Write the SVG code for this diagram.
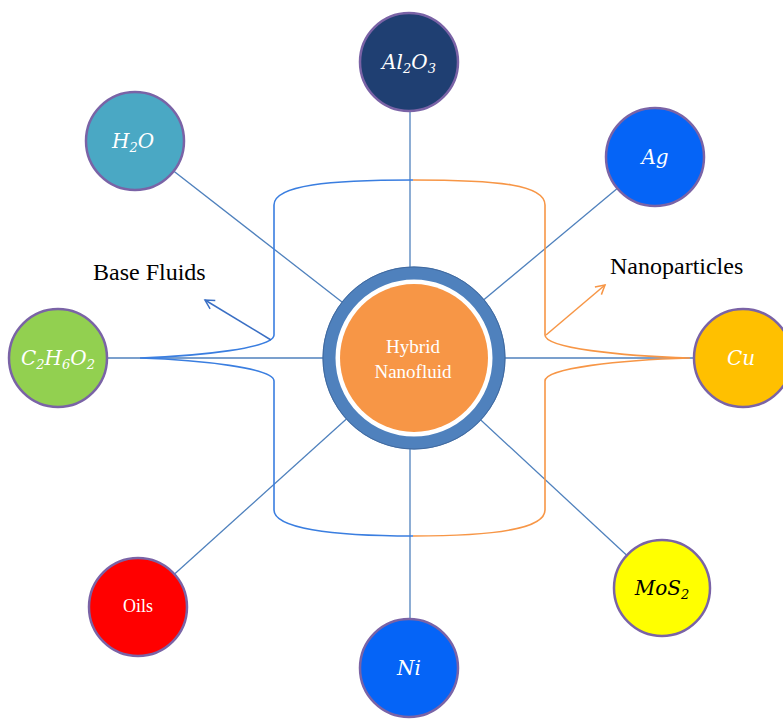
<svg xmlns="http://www.w3.org/2000/svg" width="783" height="719" viewBox="0 0 783 719">
<style>
.spoke{stroke:#4f81bd;stroke-width:1.3;fill:none}
.node{stroke:#7a63a6;stroke-width:2.5}
.lbl{font-family:"DejaVu Serif","Liberation Serif",serif;font-style:italic;font-size:20px;text-anchor:middle;fill:#fff}
.txt{font-family:"Liberation Serif",serif;fill:#000}
.blue{stroke:#3a7ee0;stroke-width:1.6;fill:none}
.orange{stroke:#f79646;stroke-width:1.6;fill:none}
</style>
<defs>
<marker id="ab" markerWidth="12" markerHeight="12" refX="10" refY="6" orient="auto" markerUnits="userSpaceOnUse"><path d="M1,1 L10,6 L1,11" fill="none" stroke="#3a6fc4" stroke-width="1.5"/></marker>
<marker id="ao" markerWidth="12" markerHeight="12" refX="10" refY="6" orient="auto" markerUnits="userSpaceOnUse"><path d="M1,1 L10,6 L1,11" fill="none" stroke="#f79646" stroke-width="1.5"/></marker>
</defs>
<rect width="783" height="719" fill="#fff"/>
<g id="connectors">
<line class="spoke" x1="410" y1="358" x2="410" y2="62"/>
<line class="spoke" x1="414" y1="358" x2="135" y2="141"/>
<line class="spoke" x1="414" y1="358" x2="655" y2="157"/>
<line class="spoke" x1="414" y1="358" x2="58" y2="358"/>
<line class="spoke" x1="414" y1="358" x2="745" y2="358"/>
<line class="spoke" x1="414" y1="358" x2="662" y2="588"/>
<line class="spoke" x1="410" y1="358" x2="410" y2="668"/>
<line class="spoke" x1="414" y1="358" x2="138" y2="607"/>
<path class="blue" d="M413,180 C330,180 274,185 274,205 L274,335 C274,348 200,356 140,358 C200,360 274,368 274,381 L274,510 C274,528 330,536 413,536"/>
<path class="orange" d="M413,180 C500,180 545,185 545,205 L545,335 C545,348 620,356 690,358 C620,360 545,368 545,381 L545,510 C545,528 500,536 413,536"/>
<line x1="271" y1="340" x2="205" y2="300" stroke="#3a6fc4" stroke-width="1.5" marker-end="url(#ab)"/>
<line x1="546" y1="335" x2="605" y2="285" stroke="#f79646" stroke-width="1.5" marker-end="url(#ao)"/>
</g>
<g id="hybrid">
<circle cx="414" cy="358" r="85" fill="#fff" stroke="#4f81bd" stroke-width="13"/>
<circle cx="414" cy="358" r="91" fill="none" stroke="#41699e" stroke-width="1"/>
<circle cx="414" cy="358" r="74" fill="#f79646"/>
<text class="txt" x="413" y="353" font-size="19" text-anchor="middle" style="fill:#fff">Hybrid</text>
<text class="txt" x="413" y="378" font-size="19" text-anchor="middle" style="fill:#fff">Nanofluid</text>
</g>
<g id="al2o3"><circle class="node" cx="409" cy="62" r="49" fill="#1f3f72"/><text class="lbl" x="409" y="69">Al<tspan font-size="13" dy="4">2</tspan><tspan dy="-4">O</tspan><tspan font-size="13" dy="4">3</tspan></text></g>
<g id="h2o"><circle class="node" cx="135" cy="141" r="49" fill="#4aa8c4"/><text class="lbl" x="133" y="148">H<tspan font-size="13" dy="4">2</tspan><tspan dy="-4">O</tspan></text></g>
<g id="ag"><circle class="node" cx="655" cy="157" r="49" fill="#0564f7"/><text class="lbl" x="655" y="164">Ag</text></g>
<g id="c2h6o2"><circle class="node" cx="58" cy="358" r="49" fill="#92d050"/><text class="lbl" x="58" y="365">C<tspan font-size="13" dy="4">2</tspan><tspan dy="-4">H</tspan><tspan font-size="13" dy="4">6</tspan><tspan dy="-4">O</tspan><tspan font-size="13" dy="4">2</tspan></text></g>
<g id="cu"><circle class="node" cx="743" cy="358" r="49" fill="#ffc000"/><text class="lbl" x="741" y="365">Cu</text></g>
<g id="mos2"><circle class="node" cx="662" cy="588" r="48" fill="#ffff00"/><text class="lbl" x="662" y="595" style="fill:#000">MoS<tspan font-size="13" dy="4">2</tspan></text></g>
<g id="ni"><circle class="node" cx="409" cy="668" r="49" fill="#0564f7"/><text class="lbl" x="409" y="675">Ni</text></g>
<g id="oils"><circle class="node" cx="138" cy="607" r="49" fill="#ff0000"/><text class="txt" x="138" y="612" font-size="18" text-anchor="middle" style="fill:#fff">Oils</text></g>
<g id="labels">
<text class="txt" x="93" y="280" font-size="24">Base Fluids</text>
<text class="txt" x="610" y="274" font-size="24">Nanoparticles</text>
</g>
</svg>
